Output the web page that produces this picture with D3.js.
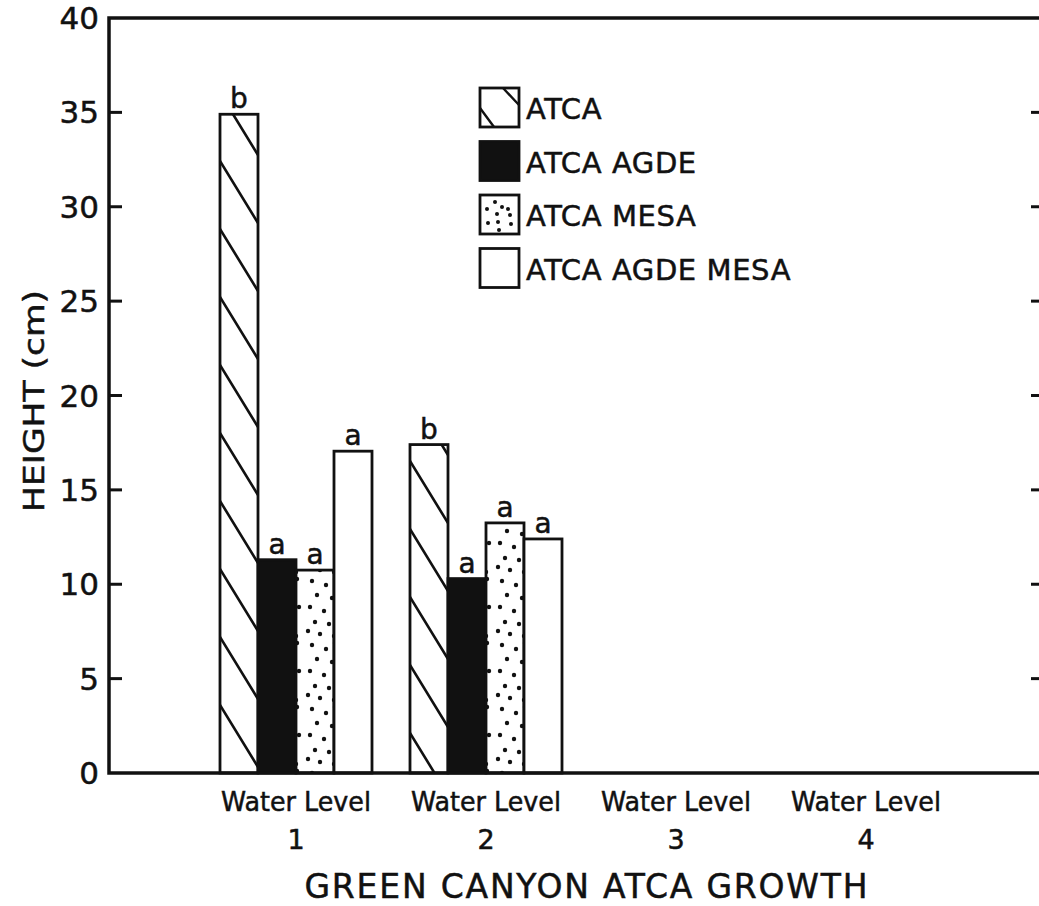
<!DOCTYPE html>
<html>
<head>
<meta charset="utf-8">
<script src="https://cdn.jsdelivr.net/npm/d3@7"></script>
<style>
  body { margin: 0; background: #fff; }
  text { font-family: "DejaVu Sans", sans-serif; fill: #111; stroke: #111; stroke-width: 0.5; }
</style>
</head>
<body>
<script>
// data
var levels = ["1", "2", "3", "4"];
var series = ["ATCA", "ATCA AGDE", "ATCA MESA", "ATCA AGDE MESA"];
var atca         = [34.9, 17.4, null, null];
var atcaAgde     = [11.3, 10.3, null, null];
var atcaMesa     = [10.75, 13.25, null, null];
var atcaAgdeMesa = [17.05, 12.4, null, null];
var sigAtca         = ["b", "b", "", ""];
var sigAtcaAgde     = ["a", "a", "", ""];
var sigAtcaMesa     = ["a", "a", "", ""];
var sigAtcaAgdeMesa = ["a", "a", "", ""];
var yTicks = [0, 5, 10, 15, 20, 25, 30, 35, 40];

var width = 1039, height = 906;
// NB: "top" is a reserved window property, so use a margin object
var m = {left: 109, right: 1041, top: 18, bottom: 773};

var values = [atca, atcaAgde, atcaMesa, atcaAgdeMesa];
var sigs = [sigAtca, sigAtcaAgde, sigAtcaMesa, sigAtcaAgdeMesa];
var fills = ["hatch", "black", "dots", "white"];

var svg = d3.select("body").append("svg").attr("width", width).attr("height", height);
var defs = svg.append("defs");

var y = d3.scaleLinear().domain([0, 40]).range([m.bottom, m.top]);
var x0 = d3.scaleBand().domain(levels).range([201, 961]).paddingInner(0.2).paddingOuter(0.1);
var x1 = d3.scaleBand().domain(series).range([0, x0.bandwidth()]);
var bw = x1.bandwidth();

// flatten to one record per bar
var bars = [];
levels.forEach(function(l, i){
  series.forEach(function(s, j){
    if (values[j][i] != null) bars.push({level: l, series: s, si: j, v: values[j][i], sig: sigs[j][i]});
  });
});

// dot texture (fixed positions)
var dotPts = [[8,5],[22,9],[31,3],[13,19],[28,22],[6,31],[20,35],[33,31],[11,46],[25,48],[16,58],[30,60],[4,55]];
var dp = defs.append("pattern").attr("id", "dots").attr("patternUnits", "userSpaceOnUse")
  .attr("width", 38).attr("height", 64);
dp.append("rect").attr("width", 38).attr("height", 64).attr("fill", "#fff");
dp.selectAll("circle").data(dotPts).enter().append("circle")
  .attr("cx", function(d){ return d[0]; }).attr("cy", function(d){ return d[1]; })
  .attr("r", 2.2).attr("fill", "#111");

// hatch pattern per bar so the lines start at the bar's left edge
bars.forEach(function(d, i){
  if (fills[d.si] !== "hatch") return;
  var p = defs.append("pattern").attr("id", "hatch" + i).attr("patternUnits", "userSpaceOnUse")
    .attr("x", x0(d.level) + x1(d.series)).attr("y", m.bottom - punchOffset(d))
    .attr("width", bw).attr("height", 68);
  p.append("rect").attr("width", bw).attr("height", 68).attr("fill", "#fff");
  p.append("path").attr("d", "M0,-68L" + bw + ",-6M0,0L" + bw + ",62M0,68L" + bw + ",130")
    .attr("stroke", "#111").attr("stroke-width", 2.6).attr("fill", "none");
});
function punchOffset(d){ return d.level === "1" ? 0 : 40; }

var chartGroup = svg.append("g");

chartGroup.selectAll("rect.bar")
  .data(bars)
  .enter().append("rect")
    .attr("class", "bar")
    .attr("x", function(d){ return x0(d.level) + x1(d.series); })
    .attr("y", function(d){ return y(d.v); })
    .attr("width", bw)
    .attr("height", function(d){ return y(0) - y(d.v); })
    .attr("fill", function(d, i){
      var f = fills[d.si];
      if (f === "hatch") return "url(#hatch" + i + ")";
      if (f === "dots") return "url(#dots)";
      return f === "black" ? "#111" : "#fff";
    })
    .attr("stroke", "#111").attr("stroke-width", 2.8);

chartGroup.selectAll("text.sig")
  .data(bars)
  .enter().append("text")
    .attr("class", "sig")
    .attr("x", function(d){ return x0(d.level) + x1(d.series) + bw / 2; })
    .attr("y", function(d){ return y(d.v) - 6; })
    .attr("text-anchor", "middle")
    .attr("font-size", 28)
    .text(function(d){ return d.sig; });

// frame
var frame = svg.append("g").attr("stroke", "#111").attr("fill", "none");
frame.append("rect").attr("x", m.left).attr("y", m.top)
  .attr("width", m.right - m.left).attr("height", m.bottom - m.top)
  .attr("stroke-width", 3.5);

// ticks, left and right, pointing inward
var inner = yTicks.filter(function(t){ return t > 0 && t < 40; });
frame.selectAll("line.tl").data(inner).enter().append("line")
  .attr("x1", m.left).attr("x2", m.left + 13)
  .attr("y1", function(d){ return y(d); }).attr("y2", function(d){ return y(d); })
  .attr("stroke-width", 3);
frame.selectAll("line.tr").data(inner).enter().append("line")
  .attr("x1", m.right - 10).attr("x2", m.right)
  .attr("y1", function(d){ return y(d); }).attr("y2", function(d){ return y(d); })
  .attr("stroke-width", 3);

svg.selectAll("text.ytick").data(yTicks).enter().append("text")
  .attr("class", "ytick")
  .attr("x", 99)
  .attr("y", function(d){ return y(d) + 11; })
  .attr("text-anchor", "end")
  .attr("font-size", 31)
  .text(function(d){ return d; });

svg.append("text")
  .attr("transform", "translate(44,401) rotate(-90)")
  .attr("text-anchor", "middle")
  .attr("font-size", 29)
  .attr("textLength", 222).attr("lengthAdjust", "spacingAndGlyphs")
  .text("HEIGHT (cm)");

// category labels
svg.selectAll("text.wl").data(levels).enter().append("text")
  .attr("class", "wl")
  .attr("x", function(d){ return x0(d) + x0.bandwidth() / 2; })
  .attr("y", 811)
  .attr("text-anchor", "middle")
  .attr("font-size", 27)
  .attr("textLength", 150).attr("lengthAdjust", "spacingAndGlyphs")
  .text("Water Level");
svg.selectAll("text.wn").data(levels).enter().append("text")
  .attr("class", "wn")
  .attr("x", function(d){ return x0(d) + x0.bandwidth() / 2; })
  .attr("y", 849)
  .attr("text-anchor", "middle")
  .attr("font-size", 27)
  .text(function(d){ return d; });

svg.append("text")
  .attr("x", 586).attr("y", 898)
  .attr("text-anchor", "middle")
  .attr("font-size", 33)
  .attr("textLength", 563).attr("lengthAdjust", "spacing")
  .text("GREEN CANYON ATCA GROWTH");

// legend
var legend = svg.append("g").attr("transform", "translate(480,88)");
var row = legend.selectAll("g").data(series).enter().append("g")
  .attr("transform", function(d, i){ return "translate(0," + (i * 53.5) + ")"; });
row.append("rect")
  .attr("width", 39).attr("height", 39)
  .attr("fill", function(d, i){ return fills[i] === "black" ? "#111" : "#fff"; })
  .attr("stroke", "#111").attr("stroke-width", 2.8);
row.filter(function(d, i){ return fills[i] === "hatch"; })
  .append("path").attr("d", "M23,0L39,17M0,20L14,39")
  .attr("stroke", "#111").attr("stroke-width", 2.4);
row.filter(function(d, i){ return fills[i] === "dots"; })
  .selectAll("circle").data([[15,7],[7,14],[22,12],[28,14],[17,19],[30,20],[8,28],[18,27],[31,29],[19,35]])
  .enter().append("circle")
    .attr("cx", function(d){ return d[0]; }).attr("cy", function(d){ return d[1]; })
    .attr("r", 2).attr("fill", "#111");
row.append("text")
  .attr("x", 46).attr("y", 31)
  .attr("font-size", 29)
  .attr("letter-spacing", 0.6)
  .text(function(d){ return d; });
</script>
</body>
</html>
